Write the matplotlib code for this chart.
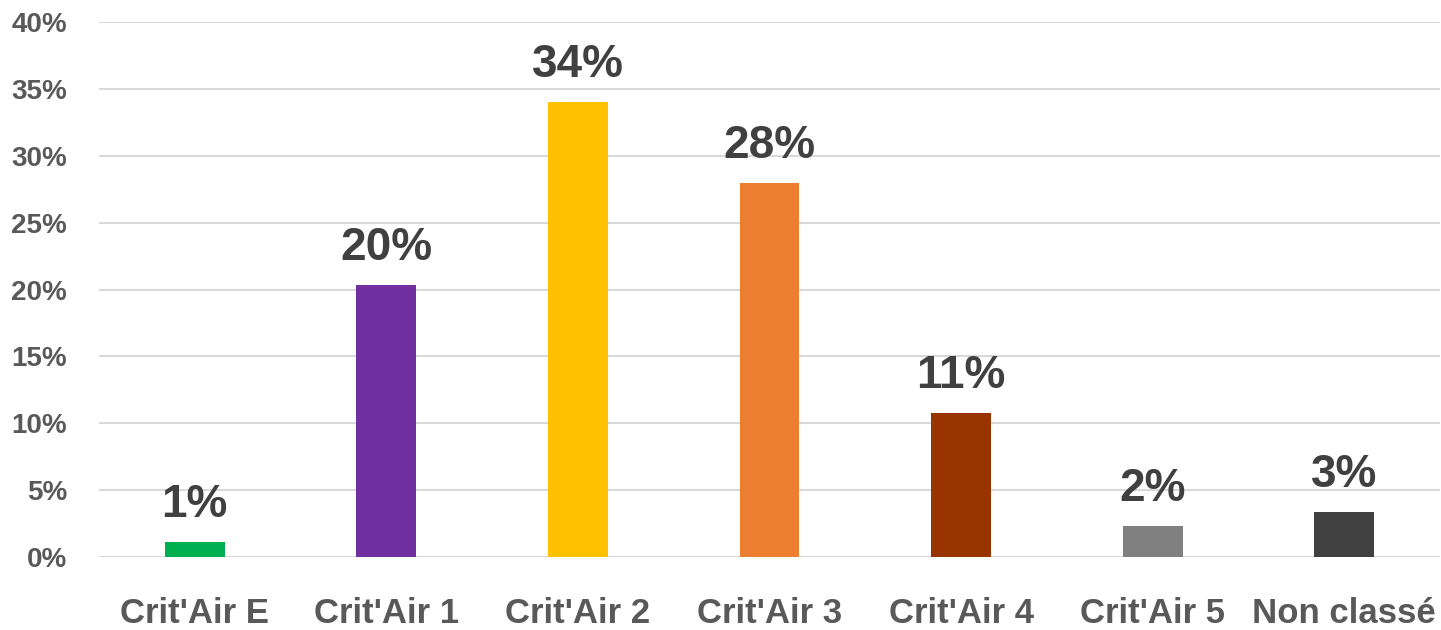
import matplotlib
matplotlib.use("Agg")
import matplotlib.pyplot as plt
from matplotlib.ticker import FuncFormatter, MultipleLocator

categories = ["Crit'Air E", "Crit'Air 1", "Crit'Air 2", "Crit'Air 3", "Crit'Air 4", "Crit'Air 5", "Non classé"]
values = [1.1, 20.3, 34.0, 28.0, 10.8, 2.3, 3.4]
labels = ["1%", "20%", "34%", "28%", "11%", "2%", "3%"]
colors = ["#00B050", "#7030A0", "#FFC000", "#ED7D31", "#993300", "#808080", "#404040"]

plt.rcParams['font.family'] = ['Liberation Sans', 'DejaVu Sans']

fig = plt.figure(figsize=(14.41, 6.30), dpi=100)
ax = fig.add_axes([99/1441, 1-557/630, 1341/1441, (557-22)/630])

x = list(range(len(categories)))
bars = ax.bar(x, values, width=0.313, color=colors, zorder=3)

for xi, v, lab in zip(x, values, labels):
    ax.annotate(lab, (xi, v), xytext=(0, 18), textcoords='offset points',
                ha='center', va='baseline', fontsize=33, fontweight='bold', color='#404040')

ax.set_xlim(-0.5, len(categories) - 0.5)
ax.set_ylim(0, 40)
ax.yaxis.set_major_locator(MultipleLocator(5))
ax.yaxis.set_major_formatter(FuncFormatter(lambda v, p: f"{int(round(v))}%"))
ax.set_xticks(x)
ax.set_xticklabels(categories)

for s in ax.spines.values():
    s.set_visible(False)
ax.grid(axis='y', color='#D9D9D9', linewidth=1.5, zorder=0)
ax.tick_params(axis='both', length=0)
ax.tick_params(axis='y', pad=23, labelsize=20, labelcolor='#595959')
ax.tick_params(axis='x', pad=29, labelsize=25, labelcolor='#595959')
for t in ax.get_yticklabels() + ax.get_xticklabels():
    t.set_fontweight('bold')

fig.savefig("out.png", dpi=100)
